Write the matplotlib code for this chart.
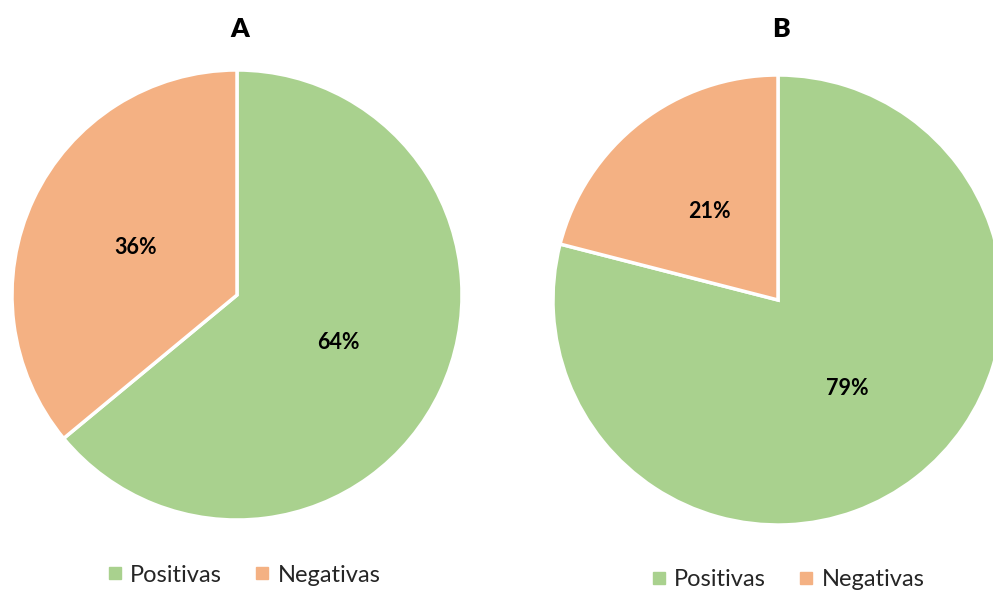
import matplotlib.pyplot as plt
from matplotlib.lines import Line2D

plt.rcParams['font.family'] = ['Lato', 'DejaVu Sans']

categories = ['Positivas', 'Negativas']
values_a = [64, 36]
values_b = [79, 21]
colors = ['#A9D18E', '#F4B183']

W, H = 993, 594
fig = plt.figure(figsize=(W / 100, H / 100), dpi=100)


def draw_pie(cx, cy, r, values, title, legend_xy):
    # axes placed in pixel units so the pie lands where wanted
    ax = fig.add_axes([(cx - r) / W, (H - cy - r) / H, 2 * r / W, 2 * r / H])
    ax.pie(values, colors=colors, startangle=90, counterclock=False,
           autopct='%1.0f%%', pctdistance=0.5, radius=1,
           wedgeprops=dict(edgecolor='white', linewidth=2.5),
           textprops=dict(fontsize=15.5, fontweight='bold', color='black'))
    ax.set_xlim(-1, 1)
    ax.set_ylim(-1, 1)
    ax.set_aspect('equal')
    ax.axis('off')
    fig.text(cx / W + 0.003, 1 - 29 / H, title, ha='center', va='center',
             fontsize=19, fontweight='heavy')
    handles = [Line2D([], [], marker='s', linestyle='', markersize=9,
                      markerfacecolor=c, markeredgecolor=c) for c in colors]
    fig.legend(handles, categories, loc='center', ncol=2, frameon=False,
               bbox_to_anchor=(legend_xy[0] / W, 1 - legend_xy[1] / H),
               fontsize=17, handletextpad=0.25, columnspacing=1.3,
               handlelength=0.8, labelcolor='#262626')


draw_pie(237, 295, 225, values_a, 'A', (243, 575))
draw_pie(778, 300, 225, values_b, 'B', (787, 580))

fig.savefig('out.png', dpi=100)
